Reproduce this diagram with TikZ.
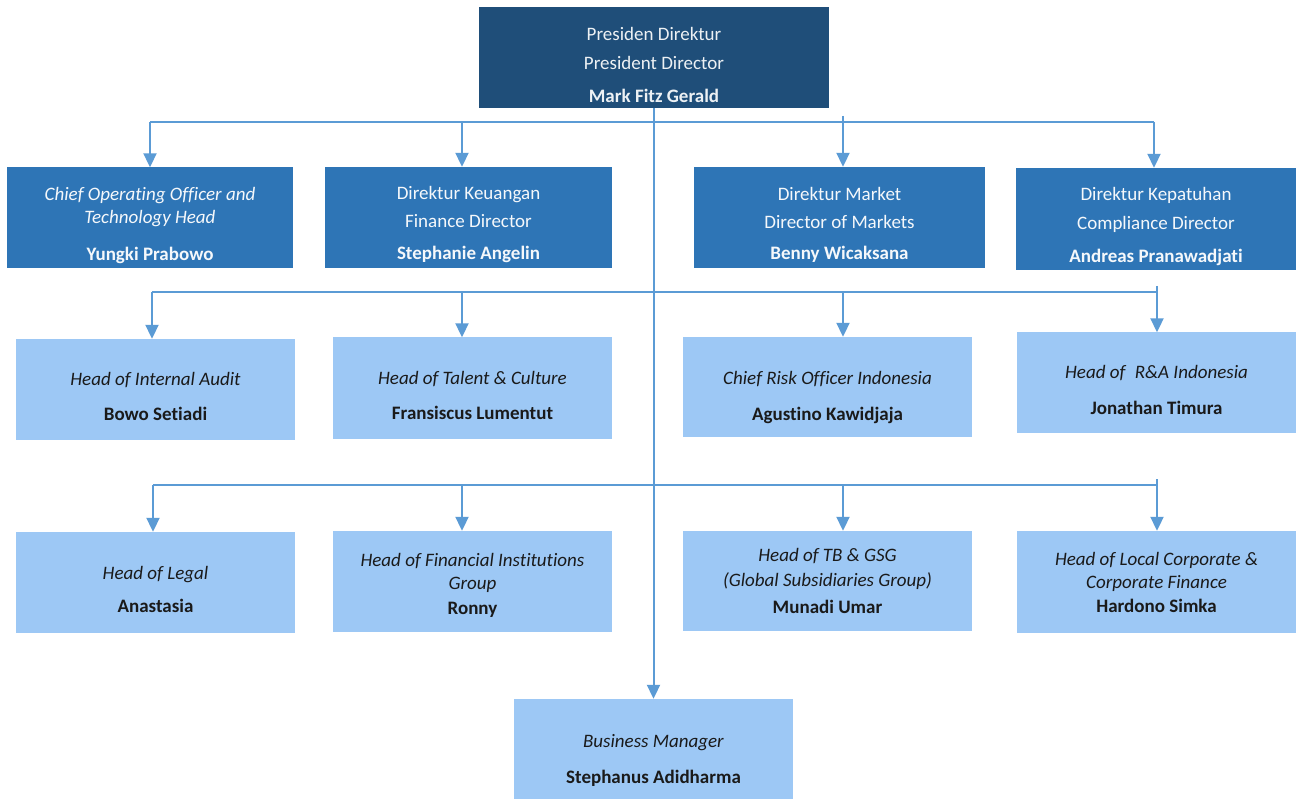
\documentclass[tikz,border=0pt]{standalone}
\usepackage{fontspec}
\setmainfont{Carlito}[Ligatures=NoCommon]
\usetikzlibrary{arrows.meta,calc}
\definecolor{navy}{HTML}{1F4E79}
\definecolor{midblue}{HTML}{2E75B6}
\definecolor{lightblue}{HTML}{9DC8F5}
\definecolor{linecol}{HTML}{5B9BD5}
\definecolor{darktext}{HTML}{1A1A1A}
\newcommand{\tp}[1][28pt]{\rule{0pt}{#1}}
\begin{document}
\begin{tikzpicture}[x=1pt,y=-1pt,
  box/.style={inner sep=0pt,align=center,minimum height=101pt,font=\fontsize{19}{23}\selectfont},
  topbox/.style={box,fill=navy,text=white!92!navy},
  dirbox/.style={box,fill=midblue,text=white!95!midblue},
  headbox/.style={box,fill=lightblue,text=darktext},
  conn/.style={draw=linecol,line width=2pt},
  arr/.style={conn,-{Triangle[width=13pt,length=14pt]}}]
\useasboundingbox (0,0) rectangle (1296,799);
\fill[white] (0,0) rectangle (1296,799);
% top
\node[topbox,minimum width=350pt] (top) at (654,57.5) {\tp Presiden Direktur\\[6pt]President Director\\[10pt]\textbf{Mark Fitz Gerald}};
% row 1
\node[dirbox,minimum width=286pt] (r1a) at (150,218) {\tp\textit{Chief Operating Officer and}\\\textit{Technology Head}\\[14pt]\textbf{Yungki Prabowo}};
\node[dirbox,minimum width=287pt] (r1b) at (468.5,217.5) {\tp Direktur Keuangan\\[5pt]Finance Director\\[9pt]\textbf{Stephanie Angelin}};
\node[dirbox,minimum width=291pt] (r1c) at (839.5,217.5) {\tp Direktur Market\\[5pt]Director of Markets\\[8pt]\textbf{Benny Wicaksana}};
\node[dirbox,minimum width=280pt,minimum height=102pt] (r1d) at (1156,219) {\tp Direktur Kepatuhan\\[6pt]Compliance Director\\[10pt]\textbf{Andreas Pranawadjati}};
% row 2
\node[headbox,minimum width=279pt] (r2a) at (155.5,389.5) {\tp\textit{Head of Internal Audit}\\[12pt]\textbf{Bowo Setiadi}};
\node[headbox,minimum width=279pt] (r2b) at (472.5,388) {\tp\textit{Head of Talent \& Culture}\\[12pt]\textbf{Fransiscus Lumentut}};
\node[headbox,minimum width=289pt,minimum height=100pt] (r2c) at (827.5,387) {\tp[34pt]\textit{Chief Risk Officer Indonesia}\\[13pt]\textbf{Agustino Kawidjaja}};
\node[headbox,minimum width=279pt] (r2d) at (1156.5,383) {\tp\textit{Head of\enspace R\&A Indonesia}\\[13pt]\textbf{Jonathan Timura}};
% row 3
\node[headbox,minimum width=279pt] (r3a) at (155.5,582.5) {\tp\textit{Head of Legal}\\[10pt]\textbf{Anastasia}};
\node[headbox,minimum width=279pt] (r3b) at (472.5,581.5) {\tp[20pt]\textit{Head of Financial Institutions}\\\textit{Group}\\[2pt]\textbf{Ronny}};
\node[headbox,minimum width=289pt,minimum height=100pt] (r3c) at (827.5,581) {\tp[12pt]\textit{Head of TB \& GSG}\\[2pt]\textit{(Global Subsidiaries Group)}\\[4pt]\textbf{Munadi Umar}};
\node[headbox,minimum width=279pt,minimum height=102pt] (r3d) at (1156.5,582) {\tp[12pt]\textit{Head of Local Corporate \&}\\\textit{Corporate Finance}\\[1pt]\textbf{Hardono Simka}};
% business manager
\node[headbox,minimum width=279pt,minimum height=100pt] (bm) at (653.5,749) {\tp[36pt]\textit{Business Manager}\\[13pt]\textbf{Stephanus Adidharma}};
% bus coordinates
\coordinate (b1l) at (150,122);
\coordinate (b1r) at (1154,122);
\coordinate (b2l) at (152,292);
\coordinate (b2r) at (1157,292);
\coordinate (b3l) at (153,485);
\coordinate (b3r) at (1157,485);
% trunk
\draw[arr] (top.south -| bm.north) -- (bm.north);
% row 1 connectors
\draw[conn] (b1l) -- (b1r);
\draw[arr] (b1l) -- (b1l |- r1a.north);
\draw[arr] (462,122) -- (462,0 |- r1b.north);
\draw[arr] (843,116) -- (843,0 |- r1c.north);
\draw[arr] (b1r) -- (b1r |- r1d.north);
% row 2 connectors
\draw[conn] (b2l) -- (b2r);
\draw[arr] (b2l) -- (b2l |- r2a.north);
\draw[arr] (462,292) -- (462,0 |- r2b.north);
\draw[arr] (843,292) -- (843,0 |- r2c.north);
\draw[arr] (1157,286) -- (1157,0 |- r2d.north);
% row 3 connectors
\draw[conn] (b3l) -- (b3r);
\draw[arr] (b3l) -- (b3l |- r3a.north);
\draw[arr] (462,485) -- (462,0 |- r3b.north);
\draw[arr] (843,485) -- (843,0 |- r3c.north);
\draw[arr] (1157,479) -- (1157,0 |- r3d.north);
\end{tikzpicture}
\end{document}
